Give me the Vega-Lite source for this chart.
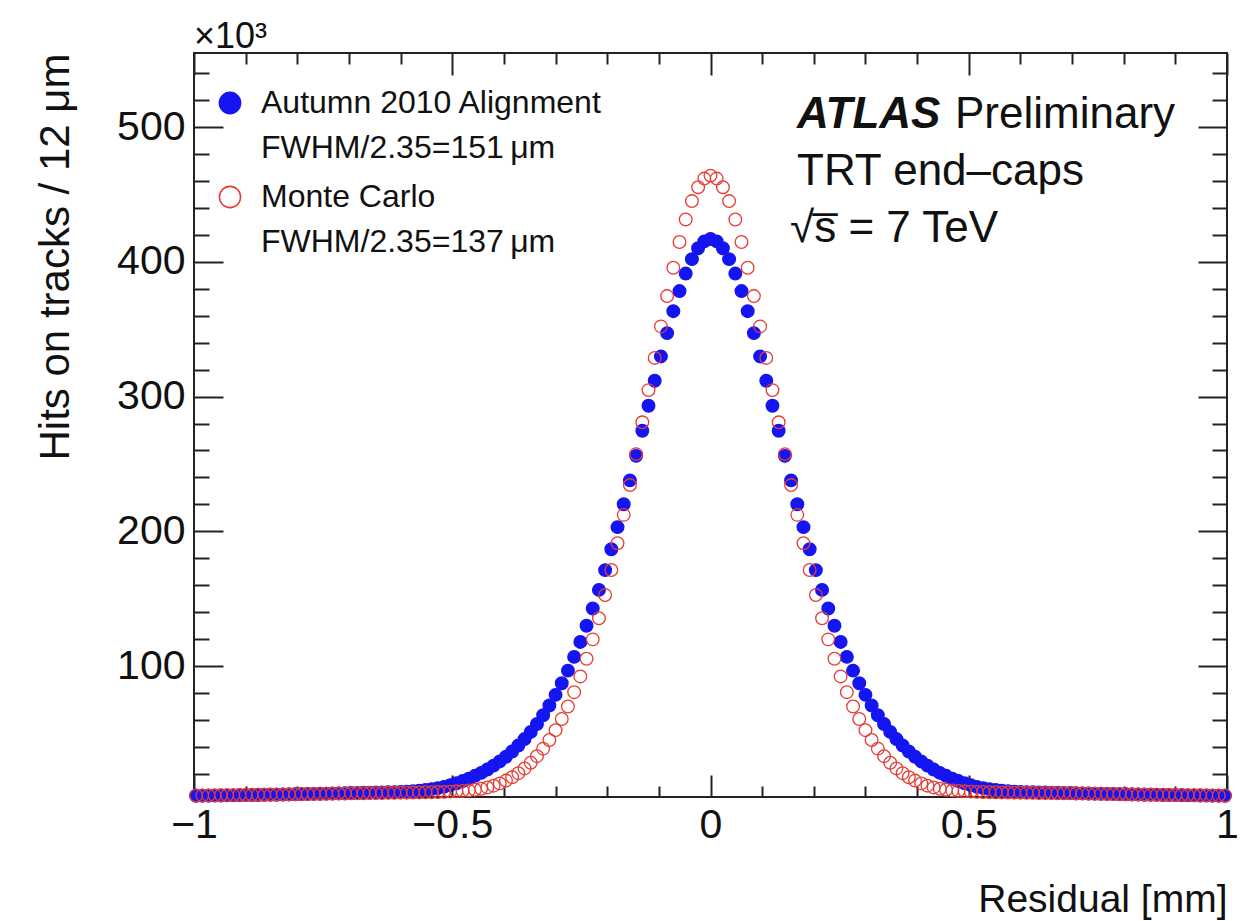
{
  "$schema": "https://vega.github.io/schema/vega-lite/v6.json",
  "width": 1033,
  "height": 744,
  "autosize": {"type": "none"},
  "padding": {"left": 194, "top": 53, "right": 20, "bottom": 124},
  "background": "white",
  "config": {
    "view": {"stroke": "#222", "strokeWidth": 2},
    "font": "Liberation Sans",
    "style": {"guide-label": {"lineHeight": 45}},
    "axis": {"grid": false, "domain": false, "tickColor": "#222", "tickWidth": 2, "labelFont": "Liberation Sans", "titleFont": "Liberation Sans", "labelColor": "#111", "titleColor": "#111"}
  },
  "resolve": {"axis": {"x": "independent", "y": "independent"}},
  "layer": [
    {
      "data": {"values": [
        {"x":-0.996,"data":3.7,"mc":3.9},{"x":-0.984,"data":3.8,"mc":3.9},{"x":-0.972,"data":3.8,"mc":4.0},{"x":-0.96,"data":3.9,"mc":4.0},{"x":-0.948,"data":3.9,"mc":4.1},{"x":-0.936,"data":4.0,"mc":4.1},{"x":-0.924,"data":4.0,"mc":4.2},{"x":-0.912,"data":4.1,"mc":4.3},{"x":-0.9,"data":4.2,"mc":4.3},{"x":-0.888,"data":4.2,"mc":4.4},{"x":-0.876,"data":4.3,"mc":4.5},{"x":-0.864,"data":4.4,"mc":4.5},{"x":-0.852,"data":4.5,"mc":4.6},{"x":-0.84,"data":4.5,"mc":4.7},{"x":-0.828,"data":4.6,"mc":4.7},{"x":-0.816,"data":4.7,"mc":4.8},{"x":-0.804,"data":4.8,"mc":4.9},{"x":-0.792,"data":4.9,"mc":5.0},{"x":-0.78,"data":5.0,"mc":5.0},{"x":-0.768,"data":5.1,"mc":5.1},{"x":-0.756,"data":5.2,"mc":5.2},{"x":-0.744,"data":5.3,"mc":5.2},{"x":-0.732,"data":5.4,"mc":5.3},{"x":-0.72,"data":5.5,"mc":5.4},{"x":-0.708,"data":5.6,"mc":5.4},{"x":-0.696,"data":5.7,"mc":5.5},{"x":-0.684,"data":5.8,"mc":5.6},{"x":-0.672,"data":5.9,"mc":5.6},{"x":-0.66,"data":6.0,"mc":5.7},{"x":-0.648,"data":6.1,"mc":5.8},{"x":-0.636,"data":6.2,"mc":5.8},{"x":-0.624,"data":6.3,"mc":5.9},{"x":-0.612,"data":6.4,"mc":5.9},{"x":-0.6,"data":6.6,"mc":6.0},{"x":-0.588,"data":6.8,"mc":6.0},{"x":-0.576,"data":7.1,"mc":6.1},{"x":-0.564,"data":7.5,"mc":6.2},{"x":-0.552,"data":8.0,"mc":6.3},{"x":-0.54,"data":8.6,"mc":6.4},{"x":-0.528,"data":9.4,"mc":6.5},{"x":-0.516,"data":10.3,"mc":6.6},{"x":-0.504,"data":11.6,"mc":6.8},{"x":-0.492,"data":13.0,"mc":7.0},{"x":-0.48,"data":14.6,"mc":7.3},{"x":-0.468,"data":16.4,"mc":7.7},{"x":-0.456,"data":18.5,"mc":8.2},{"x":-0.444,"data":20.7,"mc":8.9},{"x":-0.432,"data":23.2,"mc":9.9},{"x":-0.42,"data":26.1,"mc":11.2},{"x":-0.408,"data":29.2,"mc":12.9},{"x":-0.396,"data":32.7,"mc":15.0},{"x":-0.384,"data":36.6,"mc":17.5},{"x":-0.372,"data":41.0,"mc":20.5},{"x":-0.36,"data":45.8,"mc":24.0},{"x":-0.348,"data":51.1,"mc":28.2},{"x":-0.336,"data":57.0,"mc":33.1},{"x":-0.324,"data":63.5,"mc":38.7},{"x":-0.312,"data":70.7,"mc":45.1},{"x":-0.3,"data":78.6,"mc":52.4},{"x":-0.288,"data":87.2,"mc":60.7},{"x":-0.276,"data":96.6,"mc":70.0},{"x":-0.264,"data":106.8,"mc":80.6},{"x":-0.252,"data":117.9,"mc":92.3},{"x":-0.24,"data":129.9,"mc":105.4},{"x":-0.228,"data":142.7,"mc":119.8},{"x":-0.216,"data":156.5,"mc":135.5},{"x":-0.204,"data":171.2,"mc":152.7},{"x":-0.192,"data":186.7,"mc":171.3},{"x":-0.18,"data":203.1,"mc":191.1},{"x":-0.168,"data":220.1,"mc":212.2},{"x":-0.156,"data":237.8,"mc":234.3},{"x":-0.144,"data":256.0,"mc":257.3},{"x":-0.132,"data":274.6,"mc":280.9},{"x":-0.12,"data":293.2,"mc":304.8},{"x":-0.108,"data":311.7,"mc":328.7},{"x":-0.096,"data":329.8,"mc":352.1},{"x":-0.084,"data":347.1,"mc":374.6},{"x":-0.072,"data":363.4,"mc":395.6},{"x":-0.06,"data":378.3,"mc":414.7},{"x":-0.048,"data":391.3,"mc":431.4},{"x":-0.036,"data":402.0,"mc":445.1},{"x":-0.024,"data":410.1,"mc":455.4},{"x":-0.012,"data":415.2,"mc":461.8},
        {"x":0,"data":417.0,"mc":464.0},
        {"x":0.012,"data":415.2,"mc":461.8},{"x":0.024,"data":410.1,"mc":455.4},{"x":0.036,"data":402.0,"mc":445.1},{"x":0.048,"data":391.3,"mc":431.4},{"x":0.06,"data":378.3,"mc":414.7},{"x":0.072,"data":363.4,"mc":395.6},{"x":0.084,"data":347.1,"mc":374.6},{"x":0.096,"data":329.8,"mc":352.1},{"x":0.108,"data":311.7,"mc":328.7},{"x":0.12,"data":293.2,"mc":304.8},{"x":0.132,"data":274.6,"mc":280.9},{"x":0.144,"data":256.0,"mc":257.3},{"x":0.156,"data":237.8,"mc":234.3},{"x":0.168,"data":220.1,"mc":212.2},{"x":0.18,"data":203.1,"mc":191.1},{"x":0.192,"data":186.7,"mc":171.3},{"x":0.204,"data":171.2,"mc":152.7},{"x":0.216,"data":156.5,"mc":135.5},{"x":0.228,"data":142.7,"mc":119.8},{"x":0.24,"data":129.9,"mc":105.4},{"x":0.252,"data":117.9,"mc":92.3},{"x":0.264,"data":106.8,"mc":80.6},{"x":0.276,"data":96.6,"mc":70.0},{"x":0.288,"data":87.2,"mc":60.7},{"x":0.3,"data":78.6,"mc":52.4},{"x":0.312,"data":70.7,"mc":45.1},{"x":0.324,"data":63.5,"mc":38.7},{"x":0.336,"data":57.0,"mc":33.1},{"x":0.348,"data":51.1,"mc":28.2},{"x":0.36,"data":45.8,"mc":24.0},{"x":0.372,"data":41.0,"mc":20.5},{"x":0.384,"data":36.6,"mc":17.5},{"x":0.396,"data":32.7,"mc":15.0},{"x":0.408,"data":29.2,"mc":12.9},{"x":0.42,"data":26.1,"mc":11.2},{"x":0.432,"data":23.2,"mc":9.9},{"x":0.444,"data":20.7,"mc":8.9},{"x":0.456,"data":18.5,"mc":8.2},{"x":0.468,"data":16.4,"mc":7.7},{"x":0.48,"data":14.6,"mc":7.3},{"x":0.492,"data":13.0,"mc":7.0},{"x":0.504,"data":11.6,"mc":6.8},{"x":0.516,"data":10.3,"mc":6.6},{"x":0.528,"data":9.4,"mc":6.5},{"x":0.54,"data":8.6,"mc":6.4},{"x":0.552,"data":8.0,"mc":6.3},{"x":0.564,"data":7.5,"mc":6.2},{"x":0.576,"data":7.1,"mc":6.1},{"x":0.588,"data":6.8,"mc":6.0},{"x":0.6,"data":6.6,"mc":6.0},{"x":0.612,"data":6.4,"mc":5.9},{"x":0.624,"data":6.3,"mc":5.9},{"x":0.636,"data":6.2,"mc":5.8},{"x":0.648,"data":6.1,"mc":5.8},{"x":0.66,"data":6.0,"mc":5.7},{"x":0.672,"data":5.9,"mc":5.6},{"x":0.684,"data":5.8,"mc":5.6},{"x":0.696,"data":5.7,"mc":5.5},{"x":0.708,"data":5.6,"mc":5.4},{"x":0.72,"data":5.5,"mc":5.4},{"x":0.732,"data":5.4,"mc":5.3},{"x":0.744,"data":5.3,"mc":5.2},{"x":0.756,"data":5.2,"mc":5.2},{"x":0.768,"data":5.1,"mc":5.1},{"x":0.78,"data":5.0,"mc":5.0},{"x":0.792,"data":4.9,"mc":5.0},{"x":0.804,"data":4.8,"mc":4.9},{"x":0.816,"data":4.7,"mc":4.8},{"x":0.828,"data":4.6,"mc":4.7},{"x":0.84,"data":4.5,"mc":4.7},{"x":0.852,"data":4.5,"mc":4.6},{"x":0.864,"data":4.4,"mc":4.5},{"x":0.876,"data":4.3,"mc":4.5},{"x":0.888,"data":4.2,"mc":4.4},{"x":0.9,"data":4.2,"mc":4.3},{"x":0.912,"data":4.1,"mc":4.3},{"x":0.924,"data":4.0,"mc":4.2},{"x":0.936,"data":4.0,"mc":4.1},{"x":0.948,"data":3.9,"mc":4.1},{"x":0.96,"data":3.9,"mc":4.0},{"x":0.972,"data":3.8,"mc":4.0},{"x":0.984,"data":3.8,"mc":3.9},{"x":0.996,"data":3.7,"mc":3.9}
      ]},
      "transform": [{"fold": ["data", "mc"], "as": ["series", "hits"]}],
      "mark": {"type": "point", "shape": "circle", "size": 160, "strokeWidth": 1.3, "opacity": 1, "filled": false},
      "encoding": {
        "x": {"field": "x", "type": "quantitative", "scale": {"domain": [-1, 1], "nice": false, "zero": false},
          "axis": {"orient": "bottom", "values": [-1, -0.5, 0, 0.5, 1], "format": "~g", "tickSize": -22, "labelFontSize": 41, "labelPadding": 30, "labelFlush": false, "title": "Residual [mm]", "titleFontSize": 39, "titleFontWeight": "normal", "titleAnchor": "end", "titlePadding": 35}},
        "y": {"field": "hits", "type": "quantitative", "scale": {"domain": [2.8, 555], "nice": false, "zero": false},
          "axis": {"orient": "left", "values": [100, 200, 300, 400, 500], "tickSize": -29, "labelFontSize": 41, "labelPadding": 38, "title": "Hits on tracks / 12 μm", "titleFontSize": 42, "titleFontWeight": "normal", "titleAnchor": "end", "titlePadding": 39}},
        "fill": {"field": "series", "type": "nominal", "scale": {"domain": ["data", "mc"], "range": ["#1515f2", "transparent"]},
          "legend": {"title": null, "orient": "none", "direction": "vertical", "legendX": 20, "legendY": 34, "padding": 0, "symbolType": "circle", "symbolSize": 450, "symbolStrokeWidth": 1.6, "labelFontSize": 32, "labelFont": "Liberation Sans", "labelColor": "#111", "labelOffset": 15, "labelLimit": 600, "rowPadding": 17,
            "labelExpr": "datum.value == 'data' ? ['Autumn 2010 Alignment', 'FWHM/2.35=151\u2009μm'] : ['Monte Carlo', 'FWHM/2.35=137\u2009μm']",
            "encode": {"labels": {"lineHeight": {"value": 45}, "dy": {"value": 22}}}}},
        "stroke": {"field": "series", "type": "nominal", "scale": {"domain": ["data", "mc"], "range": ["#1515f2", "#e63c35"]},
          "legend": {"title": null, "orient": "none", "direction": "vertical", "legendX": 20, "legendY": 34, "padding": 0, "symbolType": "circle", "symbolSize": 450, "symbolStrokeWidth": 1.6, "labelFontSize": 32, "labelFont": "Liberation Sans", "labelColor": "#111", "labelOffset": 15, "labelLimit": 600, "rowPadding": 17,
            "labelExpr": "datum.value == 'data' ? ['Autumn 2010 Alignment', 'FWHM/2.35=151\u2009μm'] : ['Monte Carlo', 'FWHM/2.35=137\u2009μm']",
            "encode": {"labels": {"lineHeight": {"value": 45}, "dy": {"value": 22}}}}},
        "order": {"field": "series"}
      }
    },
    {
      "data": {"values": [{}]},
      "mark": {"type": "point", "opacity": 0},
      "encoding": {
        "x": {"datum": 0, "type": "quantitative", "axis": {"orient": "bottom", "values": [-0.9, -0.8, -0.7, -0.6, -0.4, -0.3, -0.2, -0.1, 0.1, 0.2, 0.3, 0.4, 0.6, 0.7, 0.8, 0.9], "tickSize": -11, "labels": false, "title": null}},
        "y": {"datum": 100, "type": "quantitative", "axis": {"orient": "left", "values": [20, 40, 60, 80, 120, 140, 160, 180, 220, 240, 260, 280, 320, 340, 360, 380, 420, 440, 460, 480, 520, 540], "tickSize": -15, "labels": false, "title": null}}
      }
    },
    {
      "data": {"values": [{}]},
      "mark": {"type": "point", "opacity": 0},
      "encoding": {
        "x": {"datum": 0, "type": "quantitative", "axis": {"orient": "top", "values": [-1, -0.5, 0, 0.5, 1], "tickSize": -22, "labels": false, "title": null}},
        "y": {"datum": 100, "type": "quantitative", "axis": {"orient": "right", "values": [100, 200, 300, 400, 500], "tickSize": -29, "labels": false, "title": null}}
      }
    },
    {
      "data": {"values": [{}]},
      "mark": {"type": "point", "opacity": 0},
      "encoding": {
        "x": {"datum": 0, "type": "quantitative", "axis": {"orient": "top", "values": [-0.9, -0.8, -0.7, -0.6, -0.4, -0.3, -0.2, -0.1, 0.1, 0.2, 0.3, 0.4, 0.6, 0.7, 0.8, 0.9], "tickSize": -11, "labels": false, "title": null}},
        "y": {"datum": 100, "type": "quantitative", "axis": {"orient": "right", "values": [20, 40, 60, 80, 120, 140, 160, 180, 220, 240, 260, 280, 320, 340, 360, 380, 420, 440, 460, 480, 520, 540], "tickSize": -15, "labels": false, "title": null}}
      }
    },
    {
      "data": {"values": [{"t": "×10³"}]},
      "mark": {"type": "text", "align": "left", "baseline": "alphabetic", "fontSize": 36, "font": "Liberation Sans", "color": "#111"},
      "encoding": {"text": {"field": "t"}, "x": {"datum": -1, "type": "quantitative", "axis": null}, "y": {"datum": 558.7, "type": "quantitative", "axis": null}}
    },
    {
      "data": {"values": [{"t": "ATLAS"}]},
      "mark": {"type": "text", "align": "left", "baseline": "alphabetic", "fontSize": 44, "fontStyle": "italic", "fontWeight": "bold", "font": "Liberation Sans", "color": "#111"},
      "encoding": {"text": {"field": "t"}, "x": {"datum": 0.1675, "type": "quantitative", "axis": null}, "y": {"datum": 499.3, "type": "quantitative", "axis": null}}
    },
    {
      "data": {"values": [{"t": "Preliminary"}]},
      "mark": {"type": "text", "align": "left", "baseline": "alphabetic", "fontSize": 44, "font": "Liberation Sans", "color": "#111"},
      "encoding": {"text": {"field": "t"}, "x": {"datum": 0.4734, "type": "quantitative", "axis": null}, "y": {"datum": 499.3, "type": "quantitative", "axis": null}}
    },
    {
      "data": {"values": [{"t": "TRT end–caps"}]},
      "mark": {"type": "text", "align": "left", "baseline": "alphabetic", "fontSize": 44, "font": "Liberation Sans", "color": "#111"},
      "encoding": {"text": {"field": "t"}, "x": {"datum": 0.1675, "type": "quantitative", "axis": null}, "y": {"datum": 457.0, "type": "quantitative", "axis": null}}
    },
    {
      "data": {"values": [{"t": "√s̅ = 7 TeV"}]},
      "mark": {"type": "text", "align": "left", "baseline": "alphabetic", "fontSize": 44, "font": "Liberation Sans", "color": "#111"},
      "encoding": {"text": {"field": "t"}, "x": {"datum": 0.154, "type": "quantitative", "axis": null}, "y": {"datum": 414.7, "type": "quantitative", "axis": null}}
    }
  ]
}
